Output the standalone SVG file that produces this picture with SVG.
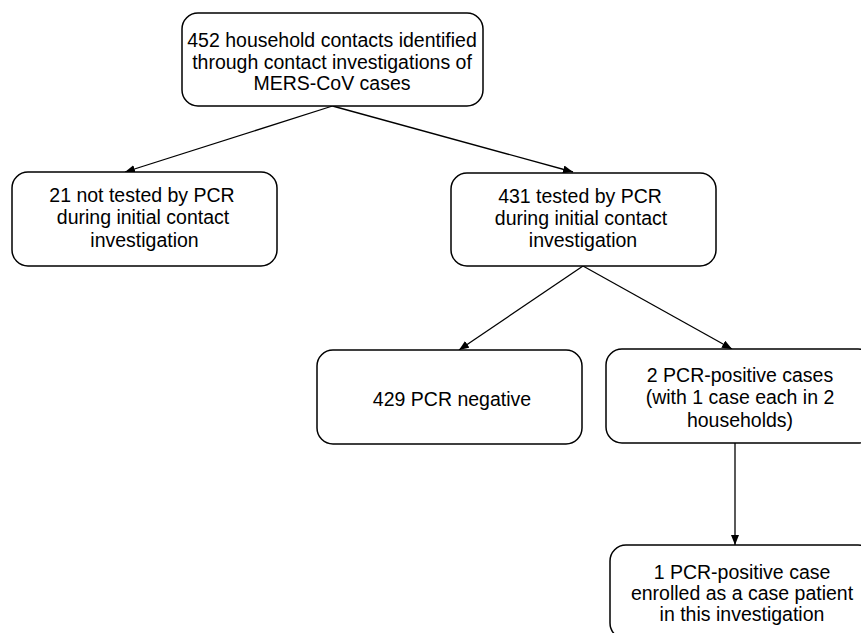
<svg xmlns="http://www.w3.org/2000/svg" width="861" height="633" viewBox="0 0 861 633">
<style>
.box{fill:#fff;stroke:#000;stroke-width:1.5}
.t{font-family:"Liberation Sans",Arial,sans-serif;font-size:19.5px;fill:#000;text-anchor:middle}
.c{stroke:#000;stroke-width:1.3;fill:none;marker-end:url(#ah)}
</style>
<defs>
<marker id="ah" markerUnits="userSpaceOnUse" markerWidth="10" markerHeight="8" refX="10" refY="4" orient="auto">
<path d="M0,0 L10,4 L0,8 z" fill="#000"/>
</marker>
</defs>
<rect width="861" height="633" fill="#fff"/>
<g id="connectors">
<line class="c" x1="332.5" y1="106" x2="125" y2="172"/>
<line class="c" x1="332.5" y1="106" x2="573" y2="172"/>
<line class="c" x1="583" y1="266" x2="459" y2="350"/>
<line class="c" x1="583" y1="266" x2="732" y2="349"/>
<line class="c" x1="735" y1="443" x2="735" y2="545"/>
</g>
<g id="n1">
<rect class="box" x="182" y="13" width="301" height="93" rx="16"/>
<text class="t" x="332" y="47">452 household contacts identified</text>
<text class="t" x="332" y="68.5">through contact investigations of</text>
<text class="t" x="332" y="90">MERS-CoV cases</text>
</g>
<g id="n2">
<rect class="box" x="12" y="172" width="265" height="94" rx="16"/>
<text class="t" x="142" y="202">21 not tested by PCR</text>
<text class="t" x="143" y="224">during initial contact</text>
<text class="t" x="144.5" y="246.5">investigation</text>
</g>
<g id="n3">
<rect class="box" x="451" y="173" width="265" height="93" rx="16"/>
<text class="t" x="580" y="202.5">431 tested by PCR</text>
<text class="t" x="581" y="224.5">during initial contact</text>
<text class="t" x="583" y="246.5">investigation</text>
</g>
<g id="n4">
<rect class="box" x="317" y="350" width="265" height="94" rx="16"/>
<text class="t" x="452" y="406">429 PCR negative</text>
</g>
<g id="n5">
<rect class="box" x="606" y="349" width="268" height="94" rx="16"/>
<text class="t" x="740" y="381.5">2 PCR-positive cases</text>
<text class="t" x="740" y="404">(with 1 case each in 2</text>
<text class="t" x="740" y="426.5">households)</text>
</g>
<g id="n6">
<rect class="box" x="610" y="545" width="264" height="94" rx="16"/>
<text class="t" x="742" y="579">1 PCR-positive case</text>
<text class="t" x="742" y="600">enrolled as a case patient</text>
<text class="t" x="742" y="620.5">in this investigation</text>
</g>
</svg>
